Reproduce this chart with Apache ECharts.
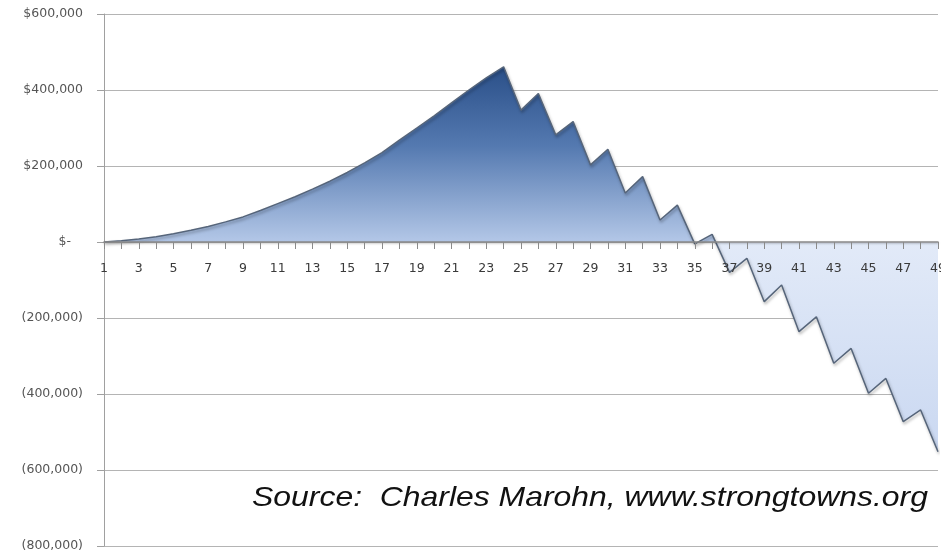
<!DOCTYPE html>
<html>
<head>
<meta charset="utf-8">
<script src="https://cdn.jsdelivr.net/npm/echarts@6/dist/echarts.min.js"></script>
<style>
html,body{margin:0;padding:0;background:#fff;}
#chart{width:941px;height:553px;}
</style>
</head>
<body>
<div id="chart"></div>
<script>
const years = ['1','2','3','4','5','6','7','8','9','10','11','12','13','14','15','16','17','18','19','20',
  '21','22','23','24','25','26','27','28','29','30','31','32','33','34','35','36','37','38','39','40',
  '41','42','43','44','45','46','47','48','49'];
const cashFlow = [0,3000,8000,14000,22000,31000,41000,53000,66000,83000,
  101000,119000,139000,160000,183000,208000,235000,268000,300000,332000,
  366000,400000,432000,461000,347000,391000,282000,317000,203000,244000,
  129000,172000,58000,97000,-5000,20000,-80000,-43000,-157000,-113000,
  -236000,-197000,-319000,-280000,-398000,-359000,-473000,-442000,-552000];
const yTicks = [-800000,-600000,-400000,-200000,0,200000,400000,600000];
const yLabels = ['(800,000)','(600,000)','(400,000)','(200,000)','$-   ','$200,000','$400,000','$600,000'];
const sourceText = 'Source:  Charles Marohn, www.strongtowns.org';

const maxV = Math.max.apply(null, cashFlow);
const minV = Math.min.apply(null, cashFlow);
const zeroOff = maxV / (maxV - minV);
const gridTop = 14, gridBottom = 7, H = 553;
const yMin = yTicks[0], yMax = yTicks[yTicks.length-1];
const plotH = H - gridTop - gridBottom;
const zeroFromBottom = plotH * (0 - yMin) / (yMax - yMin);

const chart = echarts.init(document.getElementById('chart'), null, {renderer:'canvas'});
chart.setOption({
  animation:false,
  backgroundColor:'#ffffff',
  grid:{left:104, right:3, top:gridTop, bottom:gridBottom, containLabel:false, outerBoundsMode:'none'},
  xAxis:{
    type:'category',
    data:years,
    boundaryGap:false,
    position:'bottom',
    offset:-zeroFromBottom,
    z:5,
    axisLine:{onZero:false, lineStyle:{color:'#8a8a8a', width:1.5, shadowColor:'rgba(0,0,0,0.25)', shadowBlur:2, shadowOffsetY:1}},
    axisTick:{show:true, interval:0, length:7, inside:false, lineStyle:{color:'#8a8a8a'}},
    axisLabel:{interval:1, margin:20, fontFamily:'DejaVu Sans', fontSize:12.5, color:'#3a3a3a'},
    splitLine:{show:false}
  },
  yAxis:{
    type:'value',
    min:yMin, max:yMax, interval:200000,
    axisLine:{show:true, lineStyle:{color:'#a0a0a0'}},
    axisTick:{show:true, length:7, lineStyle:{color:'#a0a0a0'}},
    axisLabel:{margin:21, fontFamily:'DejaVu Sans', fontSize:12.5, color:'#555555',
      formatter:function(v){ const i = yTicks.indexOf(v); return i>=0 ? yLabels[i] : ''; }},
    splitLine:{show:true, lineStyle:{color:'#b4b4b4', width:1}}
  },
  series:[{
    type:'line',
    data:cashFlow,
    symbol:'none',
    smooth:false,
    z:3,
    lineStyle:{color:'#56657a', width:1.5, shadowColor:'rgba(0,0,0,0.35)', shadowBlur:3, shadowOffsetX:1, shadowOffsetY:2},
    areaStyle:{
      origin:'auto',
      opacity:1,
      color:{type:'linear', x:0, y:0, x2:0, y2:1, colorStops:[
        {offset:0, color:'#2a4f88'},
        {offset:zeroOff*0.45, color:'#5479b0'},
        {offset:zeroOff-0.001, color:'#b3c7e7'},
        {offset:zeroOff+0.001, color:'#e2eaf8'},
        {offset:1, color:'#cad8f1'}
      ]}
    }
  }],
  graphic:[{
    type:'text',
    left:252, top:484,
    scaleX:1.14,
    style:{text:sourceText, font:'italic 28px "Liberation Sans", Arial, sans-serif', fill:'#111111'}
  }]
});
</script>
</body>
</html>
